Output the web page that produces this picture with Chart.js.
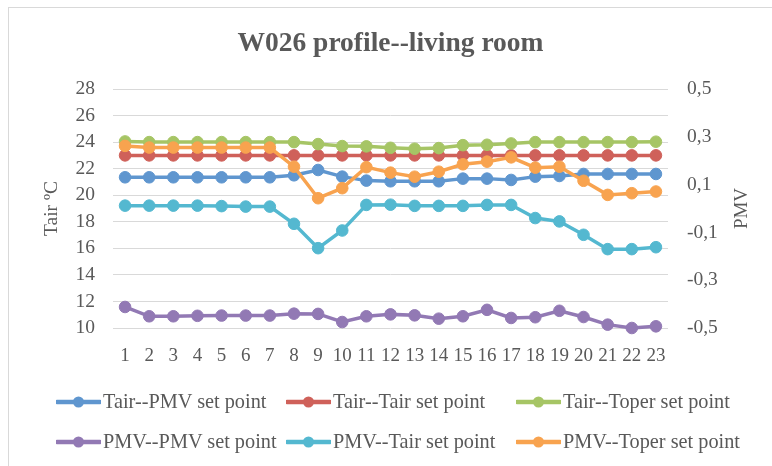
<!DOCTYPE html>
<html>
<head>
<meta charset="utf-8">
<script src="https://cdn.jsdelivr.net/npm/chart.js@4"></script>
<style>
  html, body { margin: 0; padding: 0; background: #fff; }
  #wrap { position: relative; width: 772px; height: 466px; overflow: hidden; }
  #frame { position: absolute; left: 8px; top: 7px; width: 820px; height: 520px;
           border: 1.5px solid #d9d9d9; box-sizing: border-box; }
  #chart { position: absolute; left: 0; top: 0; }
  .key { position: absolute; height: 24px; display: flex; align-items: center;
         font-family: 'Liberation Serif', serif; font-size: 20.3px; color: #595959;
         white-space: nowrap; }
  .key svg { margin-right: 2px; }
</style>
</head>
<body>
<div id="wrap">
  <div id="frame"></div>
  <canvas id="chart" width="772" height="466"></canvas>
  <div id="legend"></div>
</div>
<script>
// Hours of the day
const hours = ['1','2','3','4','5','6','7','8','9','10','11','12','13','14','15','16','17','18','19','20','21','22','23'];

// Air temperature (°C) under each control strategy
const tairPmvSet   = [21.35,21.35,21.35,21.35,21.35,21.35,21.35,21.5,21.9,21.4,21.1,21.05,21.05,21.05,21.25,21.25,21.15,21.4,21.45,21.6,21.6,21.6,21.6];
const tairTairSet  = [23,23,23,23,23,23,23,23,23,23,23,23,23,23,23,23,23,23,23,23,23,23,23];
const tairToperSet = [24.05,24.0,24.0,24.0,24.0,24.0,24.0,24.0,23.85,23.7,23.68,23.57,23.5,23.55,23.77,23.8,23.9,24.0,24.0,24.0,24.0,24.0,24.03];

// Predicted mean vote under each control strategy
const pmvPmvSet   = [-0.412,-0.451,-0.451,-0.449,-0.448,-0.448,-0.448,-0.44,-0.441,-0.475,-0.451,-0.443,-0.447,-0.461,-0.451,-0.424,-0.458,-0.455,-0.428,-0.454,-0.486,-0.5,-0.493];
const pmvTairSet  = [0.012,0.012,0.012,0.012,0.010,0.008,0.008,-0.064,-0.166,-0.092,0.015,0.016,0.011,0.011,0.011,0.015,0.015,-0.04,-0.054,-0.11,-0.17,-0.17,-0.162];
const pmvToperSet = [0.262,0.255,0.255,0.255,0.255,0.255,0.255,0.175,0.043,0.085,0.173,0.15,0.133,0.154,0.185,0.196,0.214,0.171,0.175,0.116,0.057,0.064,0.071];

// Axis tick values
const tairTicks = [10,12,14,16,18,20,22,24,26,28];
const pmvTicks  = [-0.5,-0.3,-0.1,0.1,0.3,0.5];

const FONT = "'Liberation Serif', serif";
const TEXT = '#595959';

const series = [
  { label: 'Tair--PMV set point',   data: tairPmvSet,   color: '#5f96cf', axis: 'yT' },
  { label: 'Tair--Tair set point',  data: tairTairSet,  color: '#cf615a', axis: 'yT' },
  { label: 'Tair--Toper set point', data: tairToperSet, color: '#a6c565', axis: 'yT' },
  { label: 'PMV--PMV set point',    data: pmvPmvSet,    color: '#9279b4', axis: 'yP' },
  { label: 'PMV--Tair set point',   data: pmvTairSet,   color: '#54b8d0', axis: 'yP' },
  { label: 'PMV--Toper set point',  data: pmvToperSet,  color: '#f8a34f', axis: 'yP' }
];

const datasets = series.map((s, i) => ({
  label: s.label,
  data: s.data,
  yAxisID: s.axis,
  borderColor: s.color,
  backgroundColor: s.color,
  pointBackgroundColor: s.color,
  pointBorderColor: s.color,
  borderWidth: 3.5,
  pointRadius: 5.8,
  pointBorderWidth: 1,
  tension: 0,
  clip: false,
  order: series.length - i
}));

// Secondary axis title, written bottom-to-top like the primary one
const pmvAxisTitle = {
  id: 'pmvAxisTitle',
  afterDraw(chart) {
    const { ctx, chartArea } = chart;
    const scale = chart.scales.yP;
    ctx.save();
    ctx.translate(scale.right - 30, (chartArea.top + chartArea.bottom) / 2);
    ctx.rotate(-Math.PI / 2);
    ctx.textAlign = 'center';
    ctx.textBaseline = 'middle';
    ctx.font = "19px 'Liberation Serif', serif";
    ctx.fillStyle = TEXT;
    ctx.fillText('PMV', 0, 0);
    ctx.restore();
  }
};

new Chart(document.getElementById('chart'), {
  type: 'line',
  data: { labels: hours, datasets },
  plugins: [pmvAxisTitle],
  options: {
    responsive: false,
    animation: false,
    layout: { padding: 0 },
    plugins: {
      legend: { display: false },
      tooltip: { enabled: false },
      title: {
        display: true,
        fullSize: false,
        text: 'W026 profile--living room',
        color: TEXT,
        font: { family: FONT, size: 27.5, weight: 'bold' },
        padding: { top: 27.5, bottom: 28.5 }
      }
    },
    scales: {
      x: {
        offset: true,
        grid: { display: false, drawTicks: false },
        border: { display: false },
        ticks: { color: TEXT, font: { family: FONT, size: 19 }, padding: 17, maxRotation: 0, autoSkip: false },
        afterFit: s => { s.height = 138; }
      },
      yT: {
        position: 'left',
        min: 10, max: 28,
        grid: { color: '#d9d9d9', lineWidth: 1, drawTicks: false },
        border: { display: false },
        afterBuildTicks: s => { s.ticks = tairTicks.map(v => ({ value: v })); },
        ticks: { color: TEXT, font: { family: FONT, size: 19.5 }, padding: 18 },
        title: { display: true, text: 'Tair ºC', color: TEXT, font: { family: FONT, size: 19.5 }, padding: { top: 40.3, bottom: 0 } },
        afterFit: s => { s.width = 113; }
      },
      yP: {
        position: 'right',
        min: -0.5, max: 0.5,
        grid: { display: false, drawTicks: false },
        border: { display: false },
        afterBuildTicks: s => { s.ticks = pmvTicks.map(v => ({ value: v })); },
        ticks: {
          color: TEXT, font: { family: FONT, size: 19.5 }, padding: 19,
          callback: v => v.toFixed(1).replace('.', ',')
        },
        afterFit: s => { s.width = 104; }
      }
    }
  }
});

// Legend: two rows of three keys below the plot
const legend = document.getElementById('legend');
const colX = [56, 286, 516];
const rowY = [401.5, 441.5];
series.forEach((s, i) => {
  const el = document.createElement('div');
  el.className = 'key';
  el.style.left = colX[i % 3] + 'px';
  el.style.top = (rowY[Math.floor(i / 3)] - 12) + 'px';
  el.innerHTML =
    '<svg width="45" height="14" viewBox="0 0 45 14">' +
    '<line x1="1" y1="7" x2="44" y2="7" stroke="' + s.color + '" stroke-width="4.5" stroke-linecap="round"/>' +
    '<circle cx="22.5" cy="7" r="5.5" fill="' + s.color + '"/></svg>' +
    '<span>' + s.label + '</span>';
  legend.appendChild(el);
});
</script>
</body>
</html>
